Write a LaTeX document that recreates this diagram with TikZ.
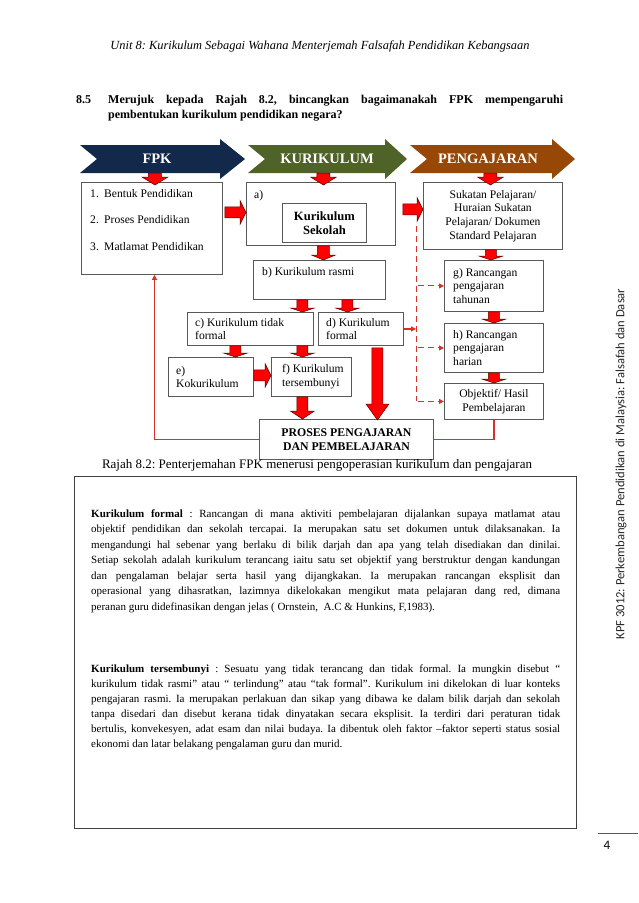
\documentclass[tikz,border=0pt]{standalone}
\usepackage{fontspec}
\setmainfont{Liberation Serif}
\newfontfamily\sidefont{Carlito}
\usetikzlibrary{arrows.meta,calc}
\frenchspacing
\definecolor{navyb}{HTML}{13294B}
\definecolor{oliveb}{HTML}{4F6228}
\definecolor{brownb}{HTML}{974806}
\definecolor{bred}{HTML}{FF0000}
\definecolor{bedge}{HTML}{5C0000}
\definecolor{boxline}{HTML}{595959}
\definecolor{linered}{HTML}{D9302C}
\newcommand\downarr[5]{\filldraw[barrow] let \p1=(#1), \p2=(#2) in
 (\x1-#3pt,\y1) -- (\x1+#3pt,\y1) -- (\x1+#3pt,\y2+#5pt) -- (\x1+#4pt,\y2+#5pt) -- (\x1,\y2) -- (\x1-#4pt,\y2+#5pt) -- (\x1-#3pt,\y2+#5pt) -- cycle;}
\newcommand\rightarr[5]{\filldraw[barrow] let \p1=(#1), \p2=(#2) in
 (\x1,\y1+#3pt) -- (\x2-#5pt,\y1+#3pt) -- (\x2-#5pt,\y1+#4pt) -- (\x2,\y1) -- (\x2-#5pt,\y1-#4pt) -- (\x2-#5pt,\y1-#3pt) -- (\x1,\y1-#3pt) -- cycle;}
\tikzset{
 barrow/.style={fill=bred, draw=bedge, line width=0.5pt, line join=miter},
 box/.style={draw=boxline, line width=0.9pt, inner sep=0pt, anchor=north west, fill=white},
 txt/.style={font=\fontsize{11.6}{13.7}\selectfont, align=left, inner sep=0pt},
 ctxt/.style={font=\fontsize{11.6}{13.7}\selectfont, align=center, inner sep=0pt},
 banner/.style={text=white, font=\bfseries\fontsize{14.5}{16}\selectfont, inner sep=0pt, minimum height=28pt},
 redline/.style={draw=linered, line width=1.2pt},
 dashline/.style={draw=linered, line width=1pt, dash pattern=on 6pt off 4pt},
 redtip/.style={-{Triangle[length=5pt,width=5pt]}},
 para/.style={font=\fontsize{11}{15.5}\selectfont, align=left, inner sep=0pt, anchor=base west},
}
\begin{document}
\begin{tikzpicture}[x=1pt,y=-1pt]
\useasboundingbox (0,0) rectangle (638,903);
\fill[white] (0,0) rectangle (638,903);

% header
\node[font=\itshape\fontsize{12.4}{15}\selectfont, inner sep=0pt] (hdr) at (320,46) {Unit 8: Kurikulum Sebagai Wahana Menterjemah Falsafah Pendidikan Kebangsaan};

% question (base anchor = last line)
\node[font=\bfseries\fontsize{12}{15}\selectfont, inner sep=0pt, anchor=base west] (qnum) at (76,103) {8.5};
\node[font=\bfseries\fontsize{12}{15}\selectfont, inner sep=0pt, anchor=base west, align=left] (qtext) at (108,118) {\makebox[455pt][s]{Merujuk kepada Rajah 8.2, bincangkan bagaimanakah FPK mempengaruhi}\\pembentukan kurikulum pendidikan negara?};

% banners
\fill[navyb] (80,145) -- (220,145) -- (220,139) -- (245,159) -- (220,179) -- (220,173) -- (80,173) -- (97,159) -- cycle;
\node[banner] (fpk) at (157,159) {FPK};
\fill[oliveb] (248,145) -- (385,145) -- (385,139) -- (407,159) -- (385,179) -- (385,173) -- (248,173) -- (265,159) -- cycle;
\node[banner] (kur) at (327,159) {KURIKULUM};
\fill[brownb] (410,145) -- (552,145) -- (552,139) -- (575,159) -- (552,179) -- (552,173) -- (410,173) -- (427,159) -- cycle;
\node[banner] (peng) at (488,159) {PENGAJARAN};

% boxes
\node[box, minimum width=141pt, minimum height=92pt] (box1) at (81,182) {};
\node[box, minimum width=149pt, minimum height=63pt] (boxa) at (246,182) {};
\node[box, minimum width=84pt, minimum height=39pt, font=\bfseries\fontsize{12.6}{14}\selectfont, align=center] (sek) at (282,203) {Kurikulum\\Sekolah};
\node[box, minimum width=132pt, minimum height=39pt] (boxb) at (253,260) {};
\node[box, minimum width=126pt, minimum height=33pt] (boxc) at (187,312) {};
\node[box, minimum width=85pt, minimum height=33pt] (boxd) at (318,312) {};
\node[box, minimum width=85pt, minimum height=39pt] (boxe) at (168,357) {};
\node[box, minimum width=80pt, minimum height=39pt] (boxf) at (271,357) {};
\node[box, minimum width=174pt, minimum height=40pt, font=\bfseries\fontsize{11.8}{13.5}\selectfont, align=center] (proses) at (259,419) {PROSES PENGAJARAN\\DAN PEMBELAJARAN};
\node[box, minimum width=139pt, minimum height=67pt, ctxt] (suk) at (423,182) {Sukatan Pelajaran/\\Huraian Sukatan\\Pelajaran/ Dokumen\\Standard Pelajaran};
\node[box, minimum width=99pt, minimum height=51pt] (boxg) at (444,260) {};
\node[box, minimum width=99pt, minimum height=49pt] (boxh) at (444,323) {};
\node[box, minimum width=99pt, minimum height=36pt, ctxt, font=\fontsize{11.6}{14.5}\selectfont] (obj) at (444,383) {Objektif/ Hasil\\Pembelajaran};

% texts in boxes
\node[txt, font=\fontsize{11.6}{26.5}\selectfont, anchor=base west] (t1) at (90,250) {\makebox[14pt][l]{1.}Bentuk Pendidikan\\\makebox[14pt][l]{2.}Proses Pendidikan\\\makebox[14pt][l]{3.}Matlamat Pendidikan};
\node[txt, anchor=base west] (ta) at (254,198) {a)};
\node[txt, anchor=base west] (tb) at (262,275) {b) Kurikulum rasmi};
\node[txt, anchor=west] (tc) at ([xshift=8pt]boxc.west) {c) Kurikulum tidak\\formal};
\node[txt, anchor=west] (td) at ([xshift=8pt]boxd.west) {d) Kurikulum\\formal};
\node[txt, anchor=west] (te) at ([xshift=8pt]boxe.west) {e)\\Kokurikulum};
\node[txt, anchor=west] (tf) at ([xshift=11pt]boxf.west) {f) Kurikulum\\tersembunyi};
\node[txt, anchor=west] (tg) at ([xshift=9pt]boxg.west) {g) Rancangan\\pengajaran\\tahunan};
\node[txt, anchor=west] (th) at ([xshift=9pt]boxh.west) {h) Rancangan\\pengajaran\\harian};

% block arrows
\downarr{[xshift=3pt]box1.north |- fpk.south}{[xshift=3pt,yshift=-3pt]box1.north}{6.5}{13}{8}
\downarr{[xshift=2.5pt]boxa.north |- kur.south}{[xshift=2.5pt,yshift=-3pt]boxa.north}{6.5}{13}{8}
\downarr{[xshift=-2.5pt]suk.north |- peng.south}{[xshift=-2.5pt,yshift=-3pt]suk.north}{6.5}{13}{8}
\rightarr{[xshift=2pt,yshift=16pt]box1.east}{boxa.west}{5.5}{12}{6}
\rightarr{[xshift=7pt,yshift=4.5pt]boxa.east}{suk.west}{5.5}{12}{6}
\downarr{[xshift=2.5pt]boxa.south}{boxb.north}{6}{12}{5}
\downarr{[xshift=-17pt]boxb.south}{boxc.north}{5.5}{12}{4}
\downarr{[xshift=28pt]boxb.south}{boxd.north}{5.5}{12}{4}
\downarr{[xshift=-15pt]boxc.south}{boxe.north}{5.5}{12}{4}
\downarr{[xshift=52pt]boxc.south}{boxf.north}{5.5}{12}{4}
\rightarr{[yshift=1.5pt]boxe.east}{boxf.west}{5.5}{12}{6}
\downarr{[xshift=-9pt]boxf.south}{proses.north}{5.5}{12}{8}
\downarr{[xshift=16.5pt,yshift=-2pt]boxd.south}{[yshift=-1pt]proses.north}{5.5}{11.5}{16}
\downarr{[xshift=-2pt]suk.south}{boxg.north}{5.5}{12}{4}
\downarr{boxg.south}{boxh.north}{5.5}{12}{4}
\downarr{boxh.south}{obj.north}{5.5}{12}{4}

% dashed connectors
\coordinate (dtop) at (416,226);
\coordinate (dbot) at (obj.west -| dtop);
\draw[dashline] (dtop) -- (dbot);
\draw[dashline, redtip] ([xshift=2pt]boxg.west -| dtop) -- (boxg.west);
\draw[dashline, redtip] ([xshift=2pt]boxh.west -| dtop) -- (boxh.west);
\draw[dashline, redtip] ([xshift=2pt]dbot) -- (obj.west);
\draw[redline, redtip] (boxd.east) -- (boxd.east -| dtop);

% feedback lines
\draw[redline, redtip] (proses.west) -| ([xshift=2.5pt]box1.south);
\draw[redline] (obj.south) |- (proses.east);

% caption
\node[font=\fontsize{13}{15}\selectfont, inner sep=0pt, anchor=base] (cap) at (317,468) {Rajah 8.2: Penterjemahan FPK menerusi pengoperasian kurikulum dan pengajaran};

% text box
\node[box, line width=0.8pt, draw=black!75, minimum width=502pt, minimum height=352pt] (tbox) at (74,476) {};
\node[para] (p1) at (91,610) {%
\makebox[469pt][s]{\textbf{Kurikulum formal} : Rancangan di mana aktiviti pembelajaran dijalankan supaya matlamat atau}\\
\makebox[469pt][s]{objektif pendidikan dan sekolah tercapai. Ia merupakan satu set dokumen untuk dilaksanakan. Ia}\\
\makebox[469pt][s]{mengandungi hal sebenar yang berlaku di bilik darjah dan apa yang telah disediakan dan dinilai.}\\
\makebox[469pt][s]{Setiap sekolah adalah kurikulum terancang iaitu satu set objektif yang berstruktur dengan kandungan}\\
\makebox[469pt][s]{dan pengalaman belajar serta hasil yang dijangkakan. Ia merupakan rancangan eksplisit dan}\\
\makebox[469pt][s]{operasional yang dihasratkan, lazimnya dikelokakan mengikut mata pelajaran dang red, dimana}\\
peranan guru didefinasikan dengan jelas ( Ornstein,\ \ A.C \& Hunkins, F,1983).};
\node[para, font=\fontsize{11}{15.1}\selectfont] (p2) at (91,747.5) {%
\makebox[469pt][s]{\textbf{Kurikulum tersembunyi} : Sesuatu yang tidak terancang dan tidak formal. Ia mungkin disebut “}\\
\makebox[469pt][s]{kurikulum tidak rasmi” atau “ terlindung” atau “tak formal”. Kurikulum ini dikelokan di luar konteks}\\
\makebox[469pt][s]{pengajaran rasmi. Ia merupakan perlakuan dan sikap yang dibawa ke dalam bilik darjah dan sekolah}\\
\makebox[469pt][s]{tanpa disedari dan disebut kerana tidak dinyatakan secara eksplisit. Ia terdiri dari peraturan tidak}\\
\makebox[469pt][s]{bertulis, konvekesyen, adat esam dan nilai budaya. Ia dibentuk oleh faktor –faktor seperti status sosial}\\
ekonomi dan latar belakang pengalaman guru dan murid.};

% side text and page number
\node[rotate=90, font=\sidefont\fontsize{12.6}{14}\selectfont, inner sep=0pt, text=black!85] (side) at (621,464) {KPF 3012: Perkembangan Pendidikan di Malaysia: Falsafah dan Dasar};
\coordinate (pl) at (598,833);
\coordinate (pr) at (638,833);
\draw[boxline, line width=0.8pt] (pl) -- (pr);
\node[font=\sidefont\fontsize{13}{15}\selectfont, inner sep=0pt, anchor=base] (pnum) at (607,849) {4};
\end{tikzpicture}
\end{document}
